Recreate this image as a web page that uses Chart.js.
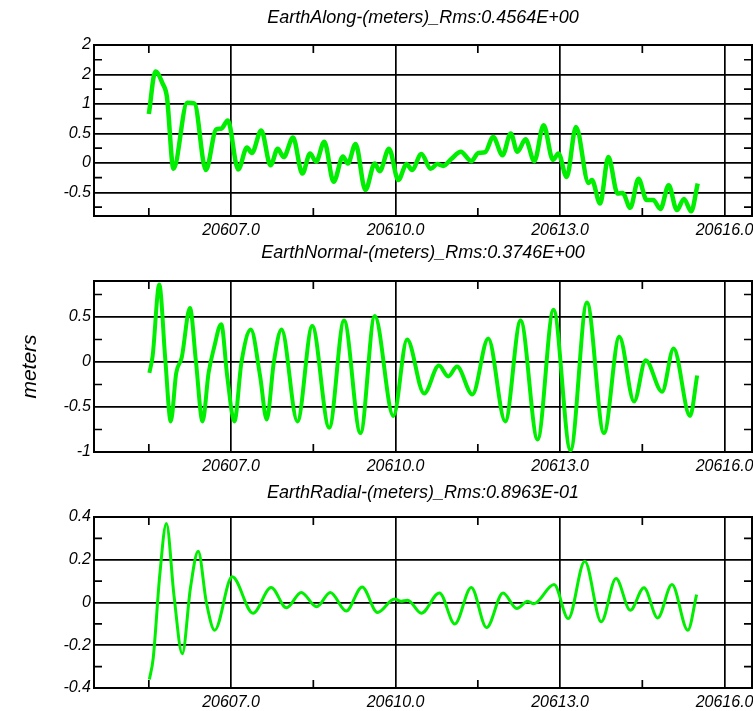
<!DOCTYPE html>
<html>
<head>
<meta charset="utf-8">
<title>Earth residuals</title>
<script src="https://cdn.jsdelivr.net/npm/chart.js@4.4.1/dist/chart.umd.min.js"></script>
<style>
    html, body { margin: 0; padding: 0; background: #fff; overflow: hidden; }
    #wrap { position: relative; width: 753px; height: 711px; }
    .panel { position: absolute; left: 0; width: 753px; height: 240px; }
</style>
</head>
<body>
<div id="wrap">
    <div class="panel" style="top:0px"><canvas id="along" width="753" height="240"></canvas></div>
    <div class="panel" style="top:236px"><canvas id="normal" width="753" height="240"></canvas></div>
    <div class="panel" style="top:472px"><canvas id="radial" width="753" height="240"></canvas></div>
</div>
<script>
// x axis (days)
const xTicks = [20607, 20610, 20613, 20616];
const xTickLabels = ["20607.0", "20610.0", "20613.0", "20616.0"];
const xMinor = [20605.5, 20608.5, 20611.5, 20614.5];

// EarthAlong
const alongT = [20605.50, 20605.62, 20605.75, 20605.83, 20605.95, 20606.20, 20606.33, 20606.54, 20606.73, 20606.82,
    20606.94, 20607.13, 20607.29, 20607.38, 20607.55, 20607.72, 20607.85, 20607.96, 20608.13, 20608.30,
    20608.44, 20608.55, 20608.70, 20608.87, 20609.04, 20609.13, 20609.27, 20609.45, 20609.62, 20609.71,
    20609.88, 20610.05, 20610.20, 20610.30, 20610.47, 20610.64, 20610.76, 20610.87, 20611.02, 20611.19,
    20611.38, 20611.51, 20611.63, 20611.78, 20611.95, 20612.10, 20612.22, 20612.37, 20612.53, 20612.70,
    20612.87, 20612.97, 20613.12, 20613.29, 20613.52, 20613.58, 20613.73, 20613.88, 20614.05, 20614.14,
    20614.28, 20614.43, 20614.58, 20614.70, 20614.83, 20614.98, 20615.13, 20615.26, 20615.39, 20615.51];
const alongV = [0.83, 1.55, 1.35, 1.12, -0.10, 1.02, 1.01, -0.12, 0.57, 0.58,
    0.72, -0.11, 0.26, 0.17, 0.55, -0.04, 0.24, 0.10, 0.43, -0.18,
    0.16, 0.02, 0.36, -0.32, 0.11, -0.01, 0.32, -0.46, -0.01, -0.14,
    0.24, -0.29, -0.02, -0.12, 0.15, -0.10, -0.02, -0.05, 0.07, 0.19,
    0.03, 0.17, 0.18, 0.44, 0.13, 0.50, 0.19, 0.40, 0.03, 0.64,
    0.05, 0.16, -0.24, 0.61, -0.34, -0.29, -0.69, 0.10, -0.52, -0.51,
    -0.76, -0.27, -0.63, -0.63, -0.78, -0.38, -0.80, -0.61, -0.82, -0.35];
const alongTicks = [2, 1.5, 1, 0.5, 0, -0.5];
const alongTickLabels = ["2", "2", "1", "0.5", "0", "-0.5"];
const alongMinor = [1.75, 1.25, 0.75, 0.25, -0.25, -0.75];

// EarthNormal
const normalT = [20605.51, 20605.57, 20605.69, 20605.80, 20605.90, 20606.00, 20606.10, 20606.25, 20606.36, 20606.48,
    20606.59, 20606.69, 20606.82, 20606.93, 20607.06, 20607.19, 20607.36, 20607.53, 20607.65, 20607.78,
    20607.92, 20608.21, 20608.48, 20608.79, 20609.06, 20609.36, 20609.62, 20609.96, 20610.21, 20610.52,
    20610.79, 20610.96, 20611.12, 20611.40, 20611.69, 20612.00, 20612.28, 20612.59, 20612.88, 20613.19,
    20613.49, 20613.80, 20614.08, 20614.35, 20614.56, 20614.86, 20615.07, 20615.37, 20615.50];
const normalV = [-0.12, 0.07, 0.86, 0.03, -0.66, -0.12, 0.05, 0.60, 0.00, -0.66,
    -0.12, 0.16, 0.42, -0.16, -0.66, 0.00, 0.36, -0.16, -0.64, 0.00,
    0.36, -0.66, 0.40, -0.73, 0.46, -0.79, 0.51, -0.60, 0.25, -0.35,
    -0.04, -0.16, -0.05, -0.36, 0.26, -0.66, 0.46, -0.86, 0.58, -0.98,
    0.66, -0.79, 0.28, -0.44, 0.02, -0.33, 0.15, -0.60, -0.15];
const normalTicks = [0.5, 0, -0.5, -1];
const normalTickLabels = ["0.5", "0", "-0.5", "-1"];
const normalMinor = [0.75, 0.25, -0.25, -0.75];

// EarthRadial
const radialT = [20605.51, 20605.58, 20605.70, 20605.82, 20605.96, 20606.11, 20606.26, 20606.40, 20606.55, 20606.70,
    20607.02, 20607.40, 20607.73, 20608.01, 20608.28, 20608.56, 20608.81, 20609.10, 20609.39, 20609.67,
    20609.98, 20610.10, 20610.22, 20610.47, 20610.80, 20611.08, 20611.38, 20611.66, 20611.96, 20612.21,
    20612.41, 20612.52, 20612.89, 20613.15, 20613.45, 20613.75, 20614.02, 20614.28, 20614.53, 20614.78,
    20615.04, 20615.33, 20615.49];
const radialV = [-0.36, -0.26, 0.13, 0.37, 0.03, -0.24, 0.07, 0.24, 0.00, -0.13,
    0.12, -0.05, 0.07, -0.025, 0.047, -0.02, 0.047, -0.04, 0.073, -0.047,
    0.016, 0.006, 0.011, -0.05, 0.045, -0.10, 0.07, -0.117, 0.045, -0.028,
    0.006, -0.006, 0.084, -0.075, 0.193, -0.09, 0.112, -0.036, 0.069, -0.072,
    0.084, -0.13, 0.037];
const radialTicks = [0.4, 0.2, 0, -0.2, -0.4];
const radialTickLabels = ["0.4", "0.2", "0", "-0.2", "-0.4"];
const radialMinor = [0.3, 0.1, -0.1, -0.3];

const FONT = "'Liberation Sans', Arial, sans-serif";
const GREEN = "#00ee00";

// box round the plot and the short inward ticks
const framePlugin = {
    id: "frame",
    beforeDatasetsDraw(chart, args, opts) {
        const ctx = chart.ctx;
        const a = chart.chartArea;
        const xs = chart.scales.x;
        const ys = chart.scales.y;
        ctx.save();
        ctx.strokeStyle = "#000";
        ctx.lineWidth = 1.7;
        ctx.beginPath();
        opts.xMinor.forEach((v) => {
            const px = xs.getPixelForValue(v);
            ctx.moveTo(px, a.top);
            ctx.lineTo(px, a.top + 8);
            ctx.moveTo(px, a.bottom);
            ctx.lineTo(px, a.bottom - 8);
        });
        opts.yMinor.forEach((v) => {
            const py = ys.getPixelForValue(v);
            ctx.moveTo(a.left, py);
            ctx.lineTo(a.left + 8, py);
            ctx.moveTo(a.right, py);
            ctx.lineTo(a.right - 8, py);
        });
        ctx.stroke();
        ctx.lineWidth = 2;
        ctx.strokeRect(a.left, a.top, a.right - a.left, a.bottom - a.top);
        ctx.restore();
    }
};

function makePanel(id, p) {
    const ctx = document.getElementById(id).getContext("2d");
    const points = p.t.map((t, i) => ({ x: t, y: p.v[i] }));

    return new Chart(ctx, {
        type: "line",
        data: {
            datasets: [{
                data: points,
                borderColor: GREEN,
                borderWidth: p.width,
                pointRadius: 0,
                cubicInterpolationMode: "monotone",
                fill: false
            }]
        },
        plugins: [framePlugin],
        options: {
            responsive: false,
            animation: false,
            layout: { padding: { left: 0, right: 1, top: 0, bottom: 0 } },
            plugins: {
                legend: { display: false },
                tooltip: { enabled: false },
                title: {
                    display: true,
                    text: p.title,
                    fullSize: false,
                    color: "#000",
                    font: { family: FONT, size: 18, style: "italic", weight: "normal" },
                    padding: p.titlePad
                },
                frame: { xMinor: xMinor, yMinor: p.minor }
            },
            scales: {
                x: {
                    type: "linear",
                    min: 20604.5,
                    max: 20616.5,
                    afterBuildTicks: (s) => { s.ticks = xTicks.map((v) => ({ value: v })); },
                    afterFit: (s) => { s.height = 24; s.paddingLeft = 0; s.paddingRight = 0; },
                    grid: { color: "#000", lineWidth: 1.7, drawTicks: false },
                    border: { display: false },
                    ticks: {
                        autoSkip: false,
                        maxRotation: 0,
                        padding: 5,
                        color: "#000",
                        font: { family: FONT, size: 16, style: "italic" },
                        callback: (v) => xTickLabels[xTicks.indexOf(v)]
                    }
                },
                y: {
                    min: p.min,
                    max: p.max,
                    afterBuildTicks: (s) => { s.ticks = p.ticks.map((v) => ({ value: v })); },
                    afterFit: (s) => { s.width = 94; s.paddingTop = 0; s.paddingBottom = 0; },
                    grid: { color: "#000", lineWidth: 1.7, drawTicks: false },
                    border: { display: false },
                    title: {
                        display: !!p.yTitle,
                        text: p.yTitle || "",
                        color: "#000",
                        font: { family: FONT, size: 21, style: "italic" },
                        padding: { top: 18, bottom: 0 }
                    },
                    ticks: {
                        autoSkip: false,
                        padding: 3,
                        color: "#000",
                        font: { family: FONT, size: 16, style: "italic" },
                        callback: (v) => p.labels[p.ticks.indexOf(v)]
                    }
                }
            }
        }
    });
}

makePanel("along", {
    title: "EarthAlong-(meters)_Rms:0.4564E+00",
    titlePad: { top: 7.2, bottom: 16.2 },
    t: alongT, v: alongV, width: 4.5,
    min: -0.9, max: 2,
    ticks: alongTicks, labels: alongTickLabels, minor: alongMinor
});

makePanel("normal", {
    title: "EarthNormal-(meters)_Rms:0.3746E+00",
    titlePad: { top: 6.2, bottom: 17.2 },
    t: normalT, v: normalV, width: 4,
    min: -1, max: 0.9,
    ticks: normalTicks, labels: normalTickLabels, minor: normalMinor,
    yTitle: "meters"
});

makePanel("radial", {
    title: "EarthRadial-(meters)_Rms:0.8963E-01",
    titlePad: { top: 10.2, bottom: 13.2 },
    t: radialT, v: radialV, width: 3,
    min: -0.4, max: 0.4,
    ticks: radialTicks, labels: radialTickLabels, minor: radialMinor
});
</script>
</body>
</html>
